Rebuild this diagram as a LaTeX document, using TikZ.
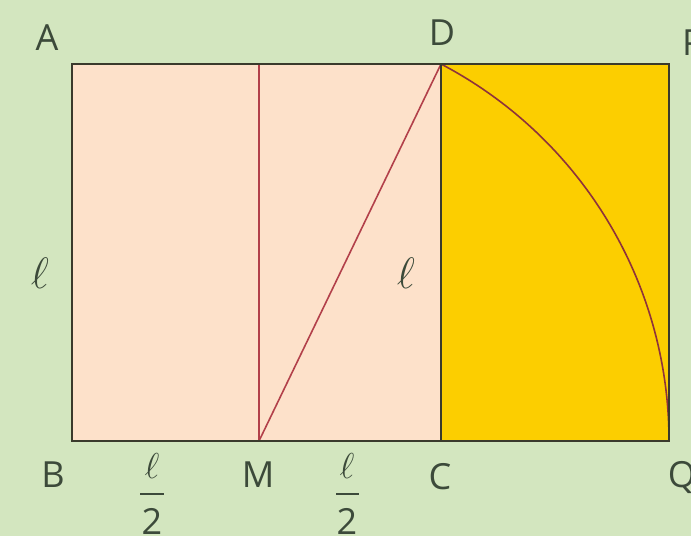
\RequirePackage{fix-cm}
\documentclass[tikz,border=0pt]{standalone}
\usepackage{fontspec}
\setmainfont{Open Sans}
\definecolor{bg}{HTML}{D3E6BF}
\definecolor{salmon}{HTML}{FDE1CA}
\definecolor{gold}{HTML}{FCCE00}
\definecolor{edge}{HTML}{3A3A2C}
\definecolor{redl}{HTML}{B2404A}
\definecolor{txt}{HTML}{3C4A3A}
\begin{document}
\begin{tikzpicture}[x=1pt,y=-1pt,
  lab/.style={text=txt,font=\fontsize{36}{40}\selectfont,inner sep=0pt},
  ellab/.style={text=txt,font=\fontsize{44}{48}\selectfont,inner sep=0pt},
  frame/.style={draw=edge,line width=2pt},
  redline/.style={draw=redl,line width=1.6pt}]
\useasboundingbox (0,0) rectangle (691,536);
\clip (0,0) rectangle (691,536);
\fill[bg] (0,0) rectangle (691,536);
% points
\coordinate (A) at (72,64);
\coordinate (B) at (72,441);
\coordinate (C) at (441,441);
\coordinate (D) at (441,64);
\coordinate (P) at (669,64);
\coordinate (Q) at (669,441);
\coordinate (M) at (259,441);
\coordinate (MT) at (259,64);
% fills
\fill[salmon] (A) rectangle (C);
\fill[gold] (D) rectangle (Q);
% lines
\draw[redline] (MT) -- (M);
\draw[redline] (M) -- (D);
\draw[draw=redl!80!black,line width=1.6pt] (D) arc[start angle=-62.33,end angle=0,radius=425.7];
\draw[frame] (A) rectangle (C);
\draw[frame] (D) rectangle (Q);
% labels
\node[lab] (lA) at (47,38) {A};
\node[lab] (lD) at (442,33) {D};
\node[lab] (lP) at (693,43) {P};
\node[lab] (lB) at (53,475) {B};
\node[lab] (lM) at (258,475) {M};
\node[lab] (lC) at (440,477) {C};
\node[lab] (lQ) at (682,477) {Q};
\node[ellab] (l1) at (40,273) {$\ell$};
\node[ellab] (l2) at (406,273) {$\ell$};
% fractions
\node[lab,font=\fontsize{36}{40}\selectfont] (f1n) at (152,466) {$\ell$};
\coordinate (f1a) at (140,494);
\coordinate (f1b) at (164,494);
\draw[draw=txt,line width=2.4pt] (f1a) -- (f1b);
\node[lab] (f1d) at (152,521) {2};
\node[lab,font=\fontsize{36}{40}\selectfont] (f2n) at (347,466) {$\ell$};
\coordinate (f2a) at (336,494);
\coordinate (f2b) at (359,494);
\draw[draw=txt,line width=2.4pt] (f2a) -- (f2b);
\node[lab] (f2d) at (347,521) {2};
\end{tikzpicture}
\end{document}
